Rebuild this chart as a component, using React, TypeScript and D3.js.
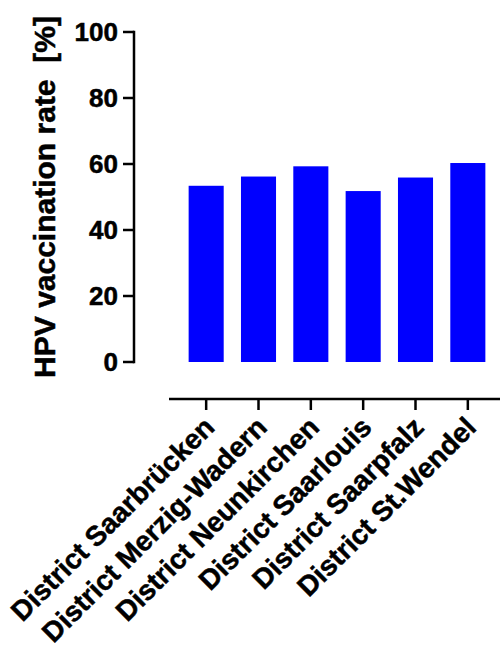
import React from "react";
import * as d3 from "d3";

const districts = [
  "District Saarbrücken",
  "District Merzig-Wadern",
  "District Neunkirchen",
  "District Saarlouis",
  "District Saarpfalz",
  "District St.Wendel",
];
const rates = [53.4, 56.2, 59.3, 51.8, 55.9, 60.3];
const yTicks = [0, 20, 40, 60, 80, 100];

const W = 500;
const H = 652;

export default function App() {
  const y = d3.scaleLinear().domain([0, 100]).range([362, 32]);
  const x = d3
    .scaleBand<string>()
    .domain(districts)
    .range([180, 494])
    .paddingInner(0.33)
    .paddingOuter(0.165);
  const axisX = 134;
  const xAxisY = 399;
  const font = "'Liberation Sans', Arial, sans-serif";
  const textStroke = { stroke: "#000", strokeWidth: 0.5 };

  return (
    <svg
      width={W}
      height={H}
      style={{ position: "absolute", left: 0, top: 0, background: "#fff" }}
      fontFamily={font}
      fontWeight="bold"
    >
      {/* bars */}
      {districts.map((d, i) => (
        <rect
          key={d}
          x={x(d)}
          y={y(rates[i])}
          width={x.bandwidth()}
          height={y(0) - y(rates[i])}
          fill="#0000ff"
        />
      ))}
      {/* y axis */}
      <line x1={axisX} x2={axisX} y1={y(100) - 1.25} y2={y(0) + 1.25} stroke="#000" strokeWidth={2.5} />
      {yTicks.map((t) => (
        <g key={t}>
          <line x1={axisX - 11} x2={axisX} y1={y(t)} y2={y(t)} stroke="#000" strokeWidth={2.5} />
          <text x={axisX - 16} y={y(t)} dy="0.36em" textAnchor="end" fontSize={26} {...textStroke}>
            {t}
          </text>
        </g>
      ))}
      <text
        transform={`translate(55, 197) rotate(-90)`}
        textAnchor="middle"
        fontSize={30}
        style={{ whiteSpace: "pre" }}
        {...textStroke}
      >
        {"HPV vaccination rate  [%]"}
      </text>
      {/* x axis */}
      <line x1={169} x2={W} y1={xAxisY} y2={xAxisY} stroke="#000" strokeWidth={2.5} />
      {districts.map((d) => {
        const cx = (x(d) as number) + x.bandwidth() / 2;
        return (
          <g key={d}>
            <line x1={cx} x2={cx} y1={xAxisY} y2={xAxisY + 11} stroke="#000" strokeWidth={2.5} />
            <text
              transform={`translate(${cx + 10}, ${xAxisY + 30}) rotate(-45)`}
              textAnchor="end"
              fontSize={28}
              {...textStroke}
            >
              {d}
            </text>
          </g>
        );
      })}
    </svg>
  );
}
